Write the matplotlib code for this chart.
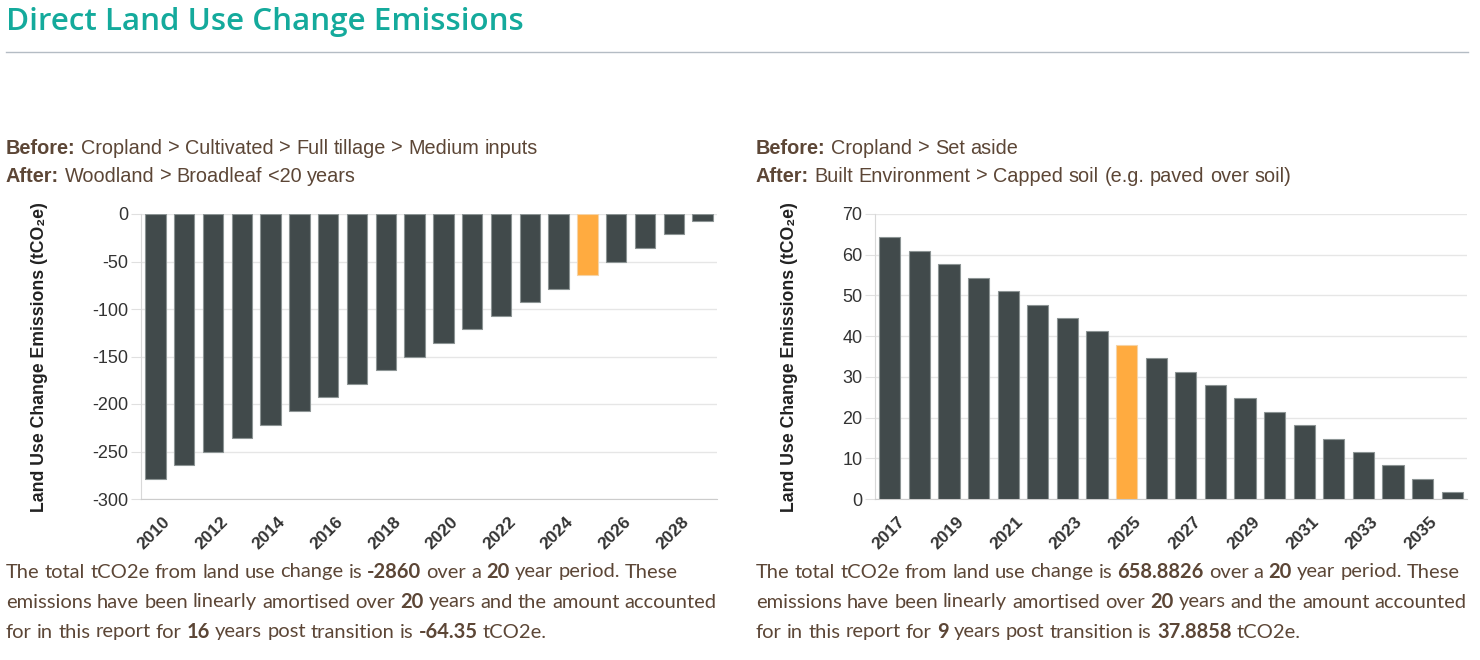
import matplotlib
matplotlib.use("Agg")
import matplotlib.pyplot as plt
from matplotlib.transforms import IdentityTransform, ScaledTranslation

W, H = 1480, 660

# data
left_years = list(range(2010, 2030))
left_values = [-278.85, -264.55, -250.25, -235.95, -221.65, -207.35, -193.05,
               -178.75, -164.45, -150.15, -135.85, -121.55, -107.25, -92.95,
               -78.65, -64.35, -50.05, -35.75, -21.45, -7.15]
left_highlight = 2025

right_years = list(range(2017, 2037))
right_values = [64.24, 60.95, 57.65, 54.36, 51.06, 47.77, 44.47, 41.18,
                37.89, 34.59, 31.30, 28.00, 24.71, 21.41, 18.12, 14.83,
                11.53, 8.24, 4.94, 1.65]
right_highlight = 2025

left_before = "Cropland > Cultivated > Full tillage > Medium inputs"
left_after = "Woodland > Broadleaf <20 years"
right_before = "Cropland > Set aside"
right_after = "Built Environment > Capped soil (e.g. paved over soil)"

left_note = [
    [("The total tCO2e from land use change is", False), ("-2860", True),
     ("over a", False), ("20", True), ("year period. These", False)],
    [("emissions have been linearly amortised over", False), ("20", True),
     ("years and the amount accounted", False)],
    [("for in this report for", False), ("16", True),
     ("years post transition is", False), ("-64.35", True), ("tCO2e.", False)],
]
right_note = [
    [("The total tCO2e from land use change is", False), ("658.8826", True),
     ("over a", False), ("20", True), ("year period. These", False)],
    [("emissions have been linearly amortised over", False), ("20", True),
     ("years and the amount accounted", False)],
    [("for in this report for", False), ("9", True),
     ("years post transition is", False), ("37.8858", True), ("tCO2e.", False)],
]

BAR = "#414a4b"
HIGH = "#ffab40"
BROWN = "#5c4636"
TEAL = "#14aa9c"
SANS = ["Liberation Sans", "DejaVu Sans"]

fig = plt.figure(figsize=(W / 100, H / 100), dpi=100)
renderer = fig.canvas.get_renderer()


def draw_runs(x, y, runs, size, color, family):
    """ Draw a line of text made of plain and bold runs, word by word """
    probe = fig.text(0, 0, "a a", fontsize=size, family=family, transform=IdentityTransform())
    w2 = probe.get_window_extent(renderer).width
    probe.set_text("aa")
    space = w2 - probe.get_window_extent(renderer).width
    probe.remove()
    for text, bold in runs:
        for word in text.split():
            t = fig.text(x, H - y, word, transform=IdentityTransform(),
                         fontsize=size, color=color, family=family,
                         fontweight="bold" if bold else "normal",
                         ha="left", va="center")
            x += t.get_window_extent(renderer).width + space


def bar_panel(px0, px1, years, values, highlight, ylim, yticks, ylab_x):
    ax = fig.add_axes([px0 / W, (H - 499) / H, (px1 - px0) / W, 285 / H])
    colors = [HIGH if y == highlight else BAR for y in years]
    edges = ["#f5d3a6" if y == highlight else "#8c9494" for y in years]
    ax.bar(range(len(years)), values, width=0.71, color=colors,
           edgecolor=edges, linewidth=0.8, zorder=3)
    ax.set_xlim(-0.5, len(years) - 0.5)
    ax.set_ylim(*ylim)
    ax.set_yticks(yticks)
    ax.set_yticklabels([str(v) for v in yticks], fontsize=13, color="#333333", family=SANS)
    ax.set_xticks(range(0, len(years), 2))
    ax.set_xticklabels([str(y) for y in years[::2]], rotation=45, ha="right", va="top",
                       rotation_mode="anchor", fontsize=12.5, fontweight="bold",
                       color="#333333", family=SANS)
    ax.tick_params(axis="y", length=7, color="#e0e0e0", pad=2)
    ax.tick_params(axis="x", length=0, pad=11)
    shift = ScaledTranslation(7 / 100, 0, fig.dpi_scale_trans)
    for lbl in ax.get_xticklabels():
        lbl.set_transform(lbl.get_transform() + shift)
    ax.yaxis.grid(True, color="#e6e6e6", linewidth=1)
    ax.set_axisbelow(True)
    for s in ["top", "right"]:
        ax.spines[s].set_visible(False)
    ax.spines["left"].set_color("#d8d8d8")
    ax.spines["bottom"].set_color("#cccccc")
    fig.text(ylab_x, H - 357, "Land Use Change Emissions (tCO\u2082e)", transform=IdentityTransform(),
             rotation=90, ha="center", va="center", fontsize=12.7, fontweight="bold",
             color="#222222", family=SANS)
    return ax


bar_panel(141, 717, left_years, left_values, left_highlight, (-300, 0),
          list(range(-300, 1, 50)), 40)
bar_panel(875, 1467, right_years, right_values, right_highlight, (0, 70),
          list(range(0, 71, 10)), 790)

# title and rule
fig.text(6, H - 22, "Direct Land Use Change Emissions", transform=IdentityTransform(),
         fontsize=22.6, color=TEAL, family=["Open Sans", "DejaVu Sans"], fontweight="semibold",
         ha="left", va="center")
fig.add_artist(plt.Line2D([6 / W, 1468 / W], [(H - 52) / H] * 2, color="#b4bcc4", linewidth=1))

# before / after captions
for x0, before, after in [(6, left_before, left_after), (756, right_before, right_after)]:
    draw_runs(x0, 148, [("Before:", True), (before, False)], 14.3, BROWN, SANS)
    draw_runs(x0, 176, [("After:", True), (after, False)], 14.3, BROWN, SANS)

# summary paragraphs
for x0, note in [(6, left_note), (756, right_note)]:
    for i, line in enumerate(note):
        draw_runs(x0, 572 + 30 * i, line, 14.5, BROWN, ["Lato", "DejaVu Sans"])

fig.savefig("out.png", dpi=100)
